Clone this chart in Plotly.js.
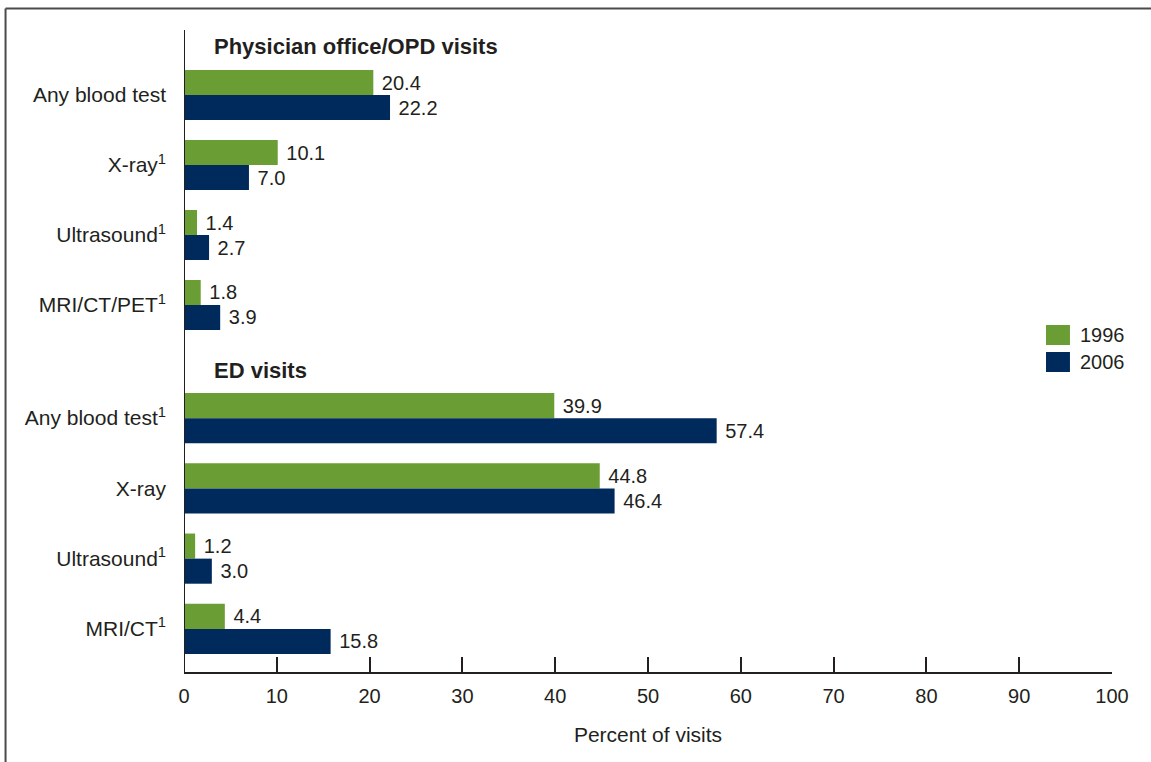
<!DOCTYPE html>
<html>
<head>
<meta charset="utf-8">
<script src="https://cdn.plot.ly/plotly-3.0.1.min.js"></script>
<style>html,body{margin:0;padding:0;background:#fff;}#chart{width:1151px;height:762px;}</style>
</head>
<body>
<div id="chart"></div>
<script>
// ---- data ----
var groupTitles = ["Physician office/OPD visits", "ED visits"];
var seriesNames = ["1996", "2006"];
var seriesColors = ["#6a9d33", "#002a5c"];

var physCategories = ["Any blood test", "X-ray<sup>1</sup>", "Ultrasound<sup>1</sup>", "MRI/CT/PET<sup>1</sup>"];
var phys1996 = [20.4, 10.1, 1.4, 1.8];
var phys2006 = [22.2, 7.0, 2.7, 3.9];

var edCategories = ["Any blood test<sup>1</sup>", "X-ray", "Ultrasound<sup>1</sup>", "MRI/CT<sup>1</sup>"];
var ed1996 = [39.9, 44.8, 1.2, 4.4];
var ed2006 = [57.4, 46.4, 3.0, 15.8];

var xTicks = [0, 10, 20, 30, 40, 50, 60, 70, 80, 90, 100];
var xTitle = "Percent of visits";

// ---- styling ----
var FONT = "Liberation Sans, Arial, Helvetica, sans-serif";
var INK = "#231f20";

function barTrace(cats, vals, idx, xa, ya) {
  return {
    type: "bar", orientation: "h",
    y: cats, x: vals, name: seriesNames[idx],
    xaxis: xa, yaxis: ya,
    marker: {color: seriesColors[idx], line: {width: 0}},
    text: vals.map(function (v) { return "\u00a0" + v.toFixed(1); }),
    textposition: "outside", cliponaxis: false,
    textfont: {family: FONT, size: 20, color: INK},
    showlegend: false, hoverinfo: "x+name"
  };
}

var data = [
  barTrace(physCategories, phys1996, 0, "x2", "y"),
  barTrace(physCategories, phys2006, 1, "x2", "y"),
  barTrace(edCategories, ed1996, 0, "x", "y2"),
  barTrace(edCategories, ed2006, 1, "x", "y2")
];

var yCommon = {
  type: "category", range: [3.5, -0.5], showline: false, showgrid: false,
  zeroline: false, ticks: "", ticklabelstandoff: 17,
  tickfont: {family: FONT, size: 21, color: INK}, fixedrange: true
};

var layout = {
  width: 1151, height: 762,
  margin: {l: 184, r: 39, t: 30, b: 89},
  paper_bgcolor: "#fff", plot_bgcolor: "#fff",
  font: {family: FONT, color: INK},
  barmode: "group", bargap: 0.2857, bargroupgap: 0,
  showlegend: false,
  xaxis: {
    range: [0, 100], tickvals: xTicks, ticktext: xTicks.map(String),
    anchor: "free", position: 0,
    showline: true, linecolor: INK, linewidth: 2,
    ticks: "inside", ticklen: 15, tickwidth: 2, tickcolor: INK,
    showgrid: false, zeroline: false, ticklabelstandoff: 5,
    tickfont: {family: FONT, size: 20, color: INK},
    title: {text: xTitle, font: {family: FONT, size: 21, color: INK}, standoff: 20}
  },
  xaxis2: {range: [0, 100], matches: "x", anchor: "y", visible: false},
  yaxis: Object.assign({domain: [0.5179, 0.9533], anchor: "x2"}, yCommon),
  yaxis2: Object.assign({domain: [0.0140, 0.4510], anchor: "x"}, yCommon),
  shapes: [
    // vertical category axis line
    {type: "line", xref: "x", yref: "paper", x0: 0, x1: 0, y0: 0, y1: 1,
     line: {color: INK, width: 2}},
    // outer frame (top and left edges)
    {type: "line", xref: "paper", yref: "paper", x0: -0.1923, x1: 1.05, y0: 1.0334, y1: 1.0334,
     line: {color: "#4a4a4a", width: 2}},
    {type: "line", xref: "paper", yref: "paper", x0: -0.1923, x1: -0.1923, y0: -0.2, y1: 1.0334,
     line: {color: "#4a4a4a", width: 2}},
    // legend swatches
    {type: "rect", xref: "paper", yref: "paper", x0: 0.9289, x1: 0.9547, y0: 0.5101, y1: 0.5412,
     fillcolor: seriesColors[0], line: {width: 0}},
    {type: "rect", xref: "paper", yref: "paper", x0: 0.9289, x1: 0.9547, y0: 0.4681, y1: 0.4992,
     fillcolor: seriesColors[1], line: {width: 0}}
  ],
  annotations: [
    {xref: "paper", yref: "paper", x: 0.0305, y: 0.9736, xanchor: "left", yanchor: "middle",
     text: "<b>" + groupTitles[0] + "</b>", showarrow: false, font: {family: FONT, size: 22, color: INK}},
    {xref: "paper", yref: "paper", x: 0.0305, y: 0.4712, xanchor: "left", yanchor: "middle",
     text: "<b>" + groupTitles[1] + "</b>", showarrow: false, font: {family: FONT, size: 22, color: INK}},
    {xref: "paper", yref: "paper", x: 0.9634, y: 0.5257, xanchor: "left", yanchor: "middle",
     text: seriesNames[0], showarrow: false, font: {family: FONT, size: 20, color: INK}},
    {xref: "paper", yref: "paper", x: 0.9634, y: 0.4837, xanchor: "left", yanchor: "middle",
     text: seriesNames[1], showarrow: false, font: {family: FONT, size: 20, color: INK}}
  ]
};

Plotly.newPlot("chart", data, layout, {displayModeBar: false, staticPlot: true});
</script>
</body>
</html>
